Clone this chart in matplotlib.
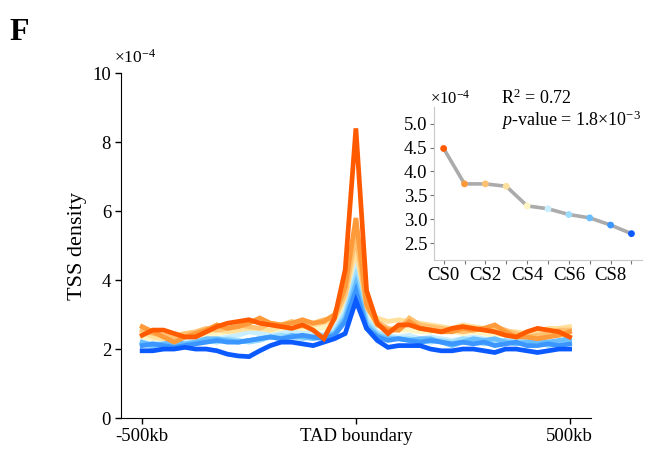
import matplotlib

matplotlib.use("Agg")

import matplotlib.pyplot as plt
import numpy as np

plt.rcParams["font.family"] = ["Liberation Serif", "DejaVu Serif"]
plt.rcParams["mathtext.fontset"] = "custom"
plt.rcParams["mathtext.rm"] = "Liberation Serif"
plt.rcParams["mathtext.it"] = "Liberation Serif:italic"

# distance to TAD boundary (kb), 25 kb bins
positions = np.arange(-500, 501, 25)

states = ["CS0", "CS1", "CS2", "CS3", "CS4", "CS5", "CS6", "CS7", "CS8", "CS9"]
colors = ["#FF5A00", "#FF9A3A", "#FFC070", "#FFE09C", "#FFF4C4",
          "#C8EEFF", "#9CDCFF", "#68BEFF", "#3C96FF", "#0A5AFF"]

# TSS density profiles (x1e-4)
cs0 = [2.4, 2.55, 2.55, 2.45, 2.35, 2.35, 2.5, 2.65, 2.75, 2.8, 2.85, 2.75, 2.7, 2.65,
       2.6, 2.7, 2.55, 2.3, 2.9, 4.3, 8.4, 3.7, 2.75, 2.45, 2.7, 2.7, 2.6, 2.55, 2.5,
       2.6, 2.65, 2.6, 2.55, 2.5, 2.4, 2.35, 2.5, 2.6, 2.55, 2.5, 2.35]
cs1 = [2.65, 2.5, 2.35, 2.2, 2.35, 2.45, 2.55, 2.7, 2.6, 2.65, 2.75, 2.9, 2.75, 2.7,
       2.75, 2.85, 2.75, 2.8, 3.0, 3.8, 5.8, 3.3, 2.7, 2.55, 2.55, 2.8, 2.6, 2.55, 2.5,
       2.5, 2.6, 2.55, 2.6, 2.7, 2.5, 2.35, 2.35, 2.3, 2.35, 2.4, 2.5]
cs2 = [2.55, 2.45, 2.4, 2.35, 2.45, 2.5, 2.6, 2.55, 2.6, 2.7, 2.65, 2.6, 2.75, 2.7,
       2.8, 2.7, 2.75, 2.85, 2.9, 3.6, 5.3, 3.2, 2.8, 2.6, 2.55, 2.9, 2.7, 2.65, 2.6,
       2.55, 2.5, 2.55, 2.6, 2.65, 2.55, 2.45, 2.35, 2.4, 2.45, 2.55, 2.55]
cs3 = [2.5, 2.35, 2.3, 2.4, 2.45, 2.45, 2.5, 2.55, 2.5, 2.55, 2.6, 2.6, 2.55, 2.65,
       2.6, 2.65, 2.7, 2.75, 2.85, 3.5, 4.9, 3.2, 2.9, 2.8, 2.85, 2.8, 2.75, 2.7, 2.65,
       2.6, 2.7, 2.65, 2.6, 2.55, 2.5, 2.5, 2.45, 2.5, 2.6, 2.6, 2.65]
cs4 = [2.35, 2.3, 2.3, 2.35, 2.4, 2.35, 2.4, 2.45, 2.5, 2.45, 2.5, 2.45, 2.5, 2.55,
       2.5, 2.55, 2.6, 2.6, 2.7, 3.3, 4.6, 3.0, 2.7, 2.6, 2.55, 2.55, 2.5, 2.5, 2.55,
       2.5, 2.45, 2.5, 2.45, 2.4, 2.45, 2.4, 2.35, 2.4, 2.45, 2.4, 2.4]
cs5 = [2.2, 2.15, 2.2, 2.25, 2.2, 2.3, 2.25, 2.3, 2.35, 2.4, 2.5, 2.45, 2.4, 2.45,
       2.5, 2.45, 2.5, 2.4, 2.6, 3.1, 4.3, 2.9, 2.5, 2.4, 2.35, 2.4, 2.3, 2.35, 2.3,
       2.25, 2.3, 2.35, 2.3, 2.2, 2.25, 2.3, 2.2, 2.2, 2.25, 2.2, 2.2]
cs6 = [2.15, 2.05, 2.0, 2.1, 2.15, 2.2, 2.25, 2.2, 2.3, 2.25, 2.2, 2.25, 2.35, 2.4,
       2.35, 2.3, 2.35, 2.4, 2.5, 3.0, 4.1, 2.8, 2.45, 2.35, 2.3, 2.3, 2.25, 2.2, 2.25,
       2.2, 2.3, 2.25, 2.15, 2.2, 2.25, 2.2, 2.3, 2.25, 2.1, 2.15, 2.2]
cs7 = [2.2, 2.1, 2.15, 2.2, 2.15, 2.2, 2.3, 2.3, 2.25, 2.2, 2.25, 2.3, 2.35, 2.3,
       2.4, 2.35, 2.3, 2.35, 2.45, 2.9, 3.9, 2.7, 2.4, 2.3, 2.3, 2.25, 2.3, 2.3, 2.2,
       2.1, 2.2, 2.3, 2.25, 2.3, 2.2, 2.15, 2.2, 2.25, 2.2, 2.25, 2.3]
cs8 = [2.1, 2.15, 2.1, 2.05, 2.1, 2.15, 2.2, 2.25, 2.2, 2.2, 2.25, 2.3, 2.35, 2.3,
       2.35, 2.4, 2.35, 2.3, 2.4, 2.8, 3.7, 2.6, 2.35, 2.25, 2.3, 2.25, 2.2, 2.25, 2.2,
       2.15, 2.2, 2.15, 2.2, 2.1, 2.15, 2.2, 2.1, 2.1, 2.15, 2.1, 2.15]
cs9 = [1.95, 1.95, 2.0, 2.0, 2.05, 2.0, 2.0, 1.95, 1.85, 1.8, 1.78, 1.95, 2.1, 2.2,
       2.2, 2.15, 2.1, 2.2, 2.3, 2.45, 3.4, 2.6, 2.25, 2.05, 2.1, 2.1, 2.1, 2.0, 1.95,
       1.95, 2.0, 2.0, 1.95, 1.9, 2.0, 2.0, 1.95, 1.9, 1.95, 2.0, 2.0]
profiles = [cs0, cs1, cs2, cs3, cs4, cs5, cs6, cs7, cs8, cs9]

# mean TSS density per chromatin state (x1e-4)
state_mean = [4.48, 3.74, 3.74, 3.69, 3.28, 3.22, 3.10, 3.03, 2.88, 2.70]

fig = plt.figure(figsize=(6.53, 4.49), dpi=100)
ax = fig.add_axes([0.185, 0.069, 0.72, 0.768])

# pale states first, strong ones on top
draw_order = [4, 5, 3, 6, 2, 7, 1, 8, 9, 0]
for k in draw_order:
    ax.plot(positions, profiles[k], color=colors[k], lw=3.4, solid_joinstyle="miter")

ax.set_xlim(-550, 550)
ax.set_ylim(0, 10)
ax.set_yticks([0, 2, 4, 6, 8, 10])
ax.set_xticks([-500, 0, 500])
ax.set_xticklabels(["-500kb", "TAD boundary", "500kb"])
ax.set_ylabel("TSS density", fontsize=16, labelpad=4)
for side in ("top", "right"):
    ax.spines[side].set_visible(False)
ax.tick_params(labelsize=13.5, length=4, width=1, pad=3)
ax.text(-0.015, 1.03, r"×10$^{-4}$", transform=ax.transAxes, fontsize=12.5)
fig.text(0.015, 0.911, "F", fontsize=23, fontweight="bold")

# inset: mean density by state
ins = fig.add_axes([0.665, 0.421, 0.318, 0.341])
idx = np.arange(len(states))
ins.plot(idx, state_mean, color="#ABABAB", lw=2.6, zorder=1)
ins.scatter(idx, state_mean, c=colors, s=24, zorder=2, linewidths=0)
ins.set_xlim(-0.45, 9.5)
ins.set_ylim(2.15, 5.35)
ins.set_yticks([2.5, 3.0, 3.5, 4.0, 4.5, 5.0])
ins.set_yticklabels(["2.5", "3.0", "3.5", "4.0", "4.5", "5.0"])
ins.set_xticks(idx)
ins.set_xticklabels([s if i % 2 == 0 else "" for i, s in enumerate(states)])
for side in ("top", "right"):
    ins.spines[side].set_visible(False)
for side in ("left", "bottom"):
    ins.spines[side].set_color("#C8C8C8")
ins.tick_params(labelsize=13.5, length=3, width=0.8, color="#777777", pad=2)
ins.patch.set_alpha(0)
ins.text(-0.02, 1.02, r"×10$^{-4}$", transform=ins.transAxes, fontsize=12)
ins.text(0.32, 1.02, r"R$^2$ = 0.72", transform=ins.transAxes, fontsize=13)
ins.text(0.32, 0.875, r"$p$-value = 1.8×10$^{-3}$", transform=ins.transAxes, fontsize=13)

fig.savefig("out.png", dpi=100)
